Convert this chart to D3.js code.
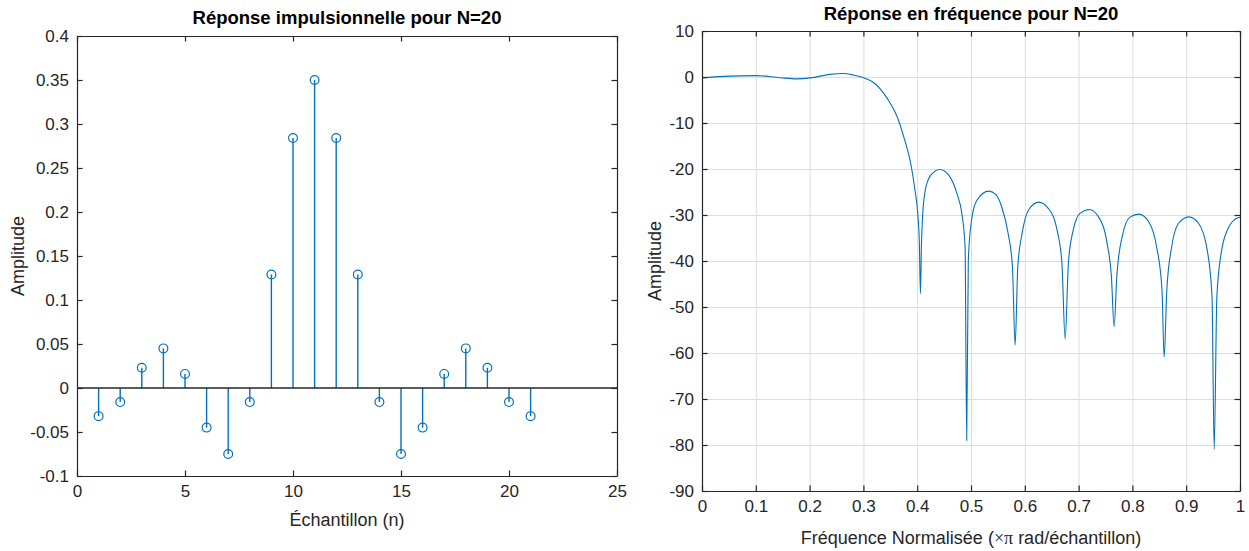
<!DOCTYPE html>
<html>
<head>
<meta charset="utf-8">
<script src="https://cdn.jsdelivr.net/npm/d3@7"></script>
<style>
    body { margin: 0; background: #fff; }
    svg { font-family: "Liberation Sans", Arial, Helvetica, sans-serif; }
    .axis path, .axis line { stroke: #262626; stroke-width: 1.2; }
    .axis text { fill: #262626; font-size: 17px; }
    .grid line { stroke: #dcdcdc; stroke-width: 1; }
    .grid path { display: none; }
    .title { font-weight: bold; font-size: 18.5px; fill: #000; }
    .label { font-size: 18px; fill: #262626; }
</style>
</head>
<body>
<div id="chart"></div>
<script>
'use strict';

// impulse response
const sampleN = [1, 2, 3, 4, 5, 6, 7, 8, 9, 10, 11, 12, 13, 14, 15, 16, 17, 18, 19, 20, 21];
const sampleH = [-0.032, -0.016, 0.023, 0.045, 0.016, -0.045, -0.075, -0.016, 0.129, 0.284, 0.35,
    0.284, 0.129, -0.016, -0.075, -0.045, 0.016, 0.045, 0.023, -0.016, -0.032];
const impulseXTicks = [0, 5, 10, 15, 20, 25];
const impulseYTicks = [-0.1, -0.05, 0, 0.05, 0.1, 0.15, 0.2, 0.25, 0.3, 0.35, 0.4];

// frequency response (dB)
const freqF = [0, 0.04, 0.1, 0.145, 0.176, 0.201, 0.238, 0.262, 0.281, 0.299, 0.32, 0.344, 0.363,
    0.375, 0.388, 0.395, 0.401, 0.404, 0.406, 0.408, 0.41, 0.415, 0.425, 0.442, 0.459, 0.474,
    0.483, 0.489, 0.492, 0.495, 0.501, 0.511, 0.533, 0.545, 0.557, 0.569, 0.577, 0.582, 0.587,
    0.595, 0.607, 0.626, 0.644, 0.66, 0.669, 0.675, 0.681, 0.69, 0.703, 0.72, 0.737, 0.753,
    0.761, 0.766, 0.771, 0.781, 0.796, 0.812, 0.83, 0.845, 0.855, 0.859, 0.864, 0.873, 0.886,
    0.905, 0.923, 0.939, 0.948, 0.952, 0.957, 0.965, 0.978, 0.996, 1];
const freqDb = [-0.2, 0.14, 0.3, -0.15, -0.4, -0.2, 0.58, 0.75, 0.45, -0.1, -1.3, -4.6, -8.7,
    -13, -18.8, -23.9, -29.7, -36, -47.1, -36, -30.4, -24.6, -21.4, -20.1, -21.4, -25.4,
    -29.7, -37, -79, -39.9, -31.2, -26.8, -24.8, -25.4, -28.2, -34, -41.2, -58.3, -41.2,
    -34, -28.9, -27.2, -28.6, -33.3, -40.5, -57, -40.5, -33.3, -29.6, -28.8, -30.4, -36.2,
    -43.4, -54.3, -43.4, -34.7, -30.4, -29.8, -31.4, -36.9, -46.3, -60.9, -46.3, -36.9, -31.8,
    -30.4, -31.8, -37.6, -47.8, -80.9, -47.8, -38.3, -32.9, -30.6, -30.5];
const freqXTicks = [0, 0.1, 0.2, 0.3, 0.4, 0.5, 0.6, 0.7, 0.8, 0.9, 1];
const freqYTicks = [-90, -80, -70, -60, -50, -40, -30, -20, -10, 0, 10];

const lineColor = '#0072BD';
const width = 1249, height = 551;

let svg = d3.select('#chart').append('svg')
    .attr('width', width)
    .attr('height', height);

function numLabel(d) {
    return String(+d.toFixed(2));
}

// draws the box, inward ticks on all four sides, optional grid
function drawFrame(g, x, y, w, h, xTicks, yTicks, withGrid) {
    if (withGrid) {
        g.append('g').attr('class', 'grid')
            .attr('transform', `translate(0,${h})`)
            .call(d3.axisBottom(x).tickValues(xTicks).tickSize(-h).tickFormat(''));
        g.append('g').attr('class', 'grid')
            .call(d3.axisLeft(y).tickValues(yTicks).tickSize(-w).tickFormat(''));
    }
}

function drawAxes(g, x, y, w, h, xTicks, yTicks) {
    let tick = 5.5;
    g.append('g').attr('class', 'axis')
        .attr('transform', `translate(0,${h})`)
        .call(d3.axisBottom(x).tickValues(xTicks).tickSize(-tick).tickSizeOuter(0)
            .tickPadding(9).tickFormat(numLabel));
    g.append('g').attr('class', 'axis')
        .call(d3.axisTop(x).tickValues(xTicks).tickSize(-tick).tickSizeOuter(0).tickFormat(''));
    g.append('g').attr('class', 'axis')
        .call(d3.axisLeft(y).tickValues(yTicks).tickSize(-tick).tickSizeOuter(0)
            .tickPadding(8).tickFormat(numLabel));
    g.append('g').attr('class', 'axis')
        .attr('transform', `translate(${w},0)`)
        .call(d3.axisRight(y).tickValues(yTicks).tickSize(-tick).tickSizeOuter(0).tickFormat(''));
}

// ---- left panel: impulse response (stem plot)
(function() {
    let box = {left: 77, right: 617, top: 36, bottom: 476};
    let w = box.right - box.left, h = box.bottom - box.top;
    let x = d3.scaleLinear().domain([0, 25]).range([0, w]);
    let y = d3.scaleLinear().domain([-0.1, 0.4]).range([h, 0]);
    let g = svg.append('g').attr('transform', `translate(${box.left},${box.top})`);

    let data = sampleN.map(function(n, i) { return {n: n, v: sampleH[i]}; });

    g.selectAll('.stem').data(data).enter().append('line')
        .attr('class', 'stem')
        .attr('x1', function(d) { return x(d.n); })
        .attr('x2', function(d) { return x(d.n); })
        .attr('y1', y(0))
        .attr('y2', function(d) { return y(d.v); })
        .attr('stroke', lineColor)
        .attr('stroke-width', 1.4);

    // baseline
    g.append('line')
        .attr('x1', x(0)).attr('x2', x(25))
        .attr('y1', y(0)).attr('y2', y(0))
        .attr('stroke', '#262626')
        .attr('stroke-width', 1.3);

    g.selectAll('.marker').data(data).enter().append('circle')
        .attr('class', 'marker')
        .attr('cx', function(d) { return x(d.n); })
        .attr('cy', function(d) { return y(d.v); })
        .attr('r', 4.4)
        .attr('fill', 'none')
        .attr('stroke', lineColor)
        .attr('stroke-width', 1.2);

    drawAxes(g, x, y, w, h, impulseXTicks, impulseYTicks);

    svg.append('text').attr('class', 'title')
        .attr('x', box.left + w / 2).attr('y', 24)
        .attr('text-anchor', 'middle')
        .text('Réponse impulsionnelle pour N=20');
    svg.append('text').attr('class', 'label')
        .attr('x', box.left + w / 2).attr('y', 526)
        .attr('text-anchor', 'middle')
        .text('Échantillon (n)');
    svg.append('text').attr('class', 'label')
        .attr('transform', `translate(24,${box.top + h / 2}) rotate(-90)`)
        .attr('text-anchor', 'middle')
        .text('Amplitude');
})();

// ---- right panel: frequency response
(function() {
    let box = {left: 702, right: 1240, top: 31, bottom: 491};
    let w = box.right - box.left, h = box.bottom - box.top;
    let x = d3.scaleLinear().domain([0, 1]).range([0, w]);
    let y = d3.scaleLinear().domain([-90, 10]).range([h, 0]);
    let g = svg.append('g').attr('transform', `translate(${box.left},${box.top})`);

    drawFrame(g, x, y, w, h, freqXTicks, freqYTicks, true);

    let data = freqF.map(function(f, i) { return {f: f, db: freqDb[i]}; });
    let line = d3.line()
        .x(function(d) { return x(d.f); })
        .y(function(d) { return y(d.db); })
        .curve(d3.curveMonotoneX);

    g.append('path').datum(data)
        .attr('d', line)
        .attr('fill', 'none')
        .attr('stroke', lineColor)
        .attr('stroke-width', 1.1);

    drawAxes(g, x, y, w, h, freqXTicks, freqYTicks);

    svg.append('text').attr('class', 'title')
        .attr('x', box.left + w / 2).attr('y', 20)
        .attr('text-anchor', 'middle')
        .text('Réponse en fréquence pour N=20');
    let xl = svg.append('text').attr('class', 'label')
        .attr('x', box.left + w / 2).attr('y', 544)
        .attr('text-anchor', 'middle');
    xl.append('tspan').text('Fréquence Normalisée (');
    xl.append('tspan').attr('font-family', '"Liberation Serif", "DejaVu Serif", serif').text('×π');
    xl.append('tspan').text(' rad/échantillon)');
    svg.append('text').attr('class', 'label')
        .attr('transform', `translate(661,${box.top + h / 2}) rotate(-90)`)
        .attr('text-anchor', 'middle')
        .text('Amplitude');
})();
</script>
</body>
</html>
